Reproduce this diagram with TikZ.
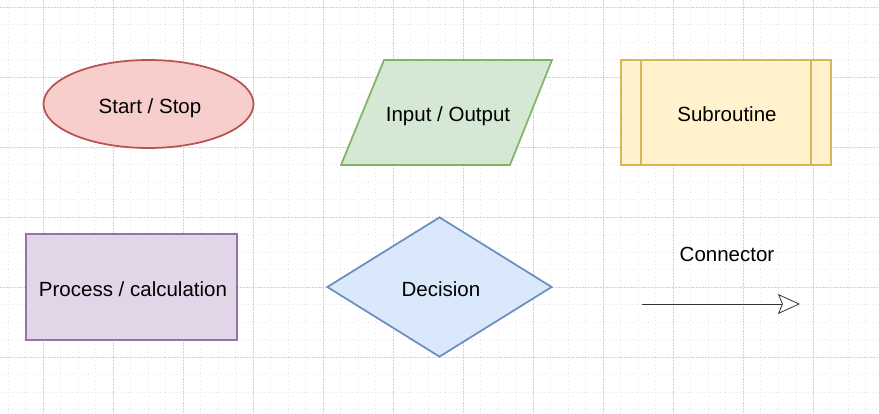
\documentclass[tikz,border=0pt]{standalone}
\usepackage{fontspec}
\setmainfont{Liberation Sans}
\usetikzlibrary{shapes.geometric,arrows.meta}
\definecolor{redfill}{HTML}{F8CECC}\definecolor{redline}{HTML}{B85450}
\definecolor{greenfill}{HTML}{D5E8D4}\definecolor{greenline}{HTML}{82B366}
\definecolor{yellowfill}{HTML}{FFF2CC}\definecolor{yellowline}{HTML}{D6B656}
\definecolor{purplefill}{HTML}{E1D5E7}\definecolor{purpleline}{HTML}{9673A6}
\definecolor{bluefill}{HTML}{DAE8FC}\definecolor{blueline}{HTML}{6C8EBF}
\definecolor{minorgrid}{HTML}{E6E6E6}\definecolor{majorgrid}{HTML}{D4D4D4}
\tikzset{
  shapebox/.style={line width=1.75pt, inner sep=0pt, text=black},
  lbl/.style={font=\fontsize{20.5}{24}\selectfont, text=black, inner sep=0pt, anchor=base},
  minorline/.style={draw=minorgrid, line width=0.8pt, dash pattern=on 1pt off 3pt},
  majorline/.style={draw=majorgrid, line width=0.8pt, dash pattern=on 1.5pt off 1.5pt},
  conn/.style={draw=black!80, line width=0.8pt, -{Stealth[open, fill=white, length=22pt, width=20pt, inset=4pt]}}
}
\begin{document}
\begin{tikzpicture}[x=1pt,y=-1pt]
\useasboundingbox[fill=white] (0,0) rectangle (879,413);
% grid
\foreach \i in {0,...,49} {\draw[minorline] (8+17.5*\i,0) -- (8+17.5*\i,413);}
\foreach \j in {0,...,23} {\draw[minorline] (0,7+17.5*\j) -- (879,7+17.5*\j);}
\foreach \i in {0,...,11} {\draw[majorline] (43+70*\i,0) -- (43+70*\i,413);}
\foreach \j in {0,...,5} {\draw[majorline] (0,7+70*\j) -- (879,7+70*\j);}
% Start / Stop
\node[shapebox, ellipse, draw=redline, fill=redfill, minimum width=210pt, minimum height=88pt] (start) at (148.5,104) {};
\node[lbl] (starttxt) at (150,113) {Start / Stop};
% Input / Output parallelogram
\coordinate (p1) at (384,60); \coordinate (p2) at (552,60);
\coordinate (p3) at (510,165); \coordinate (p4) at (341,165);
\draw[line width=1.75pt, draw=greenline, fill=greenfill, line join=miter] (p1) -- (p2) -- (p3) -- (p4) -- cycle;
\node[lbl] (io) at (448,121) {Input / Output};
% Subroutine
\node[shapebox, rectangle, draw=yellowline, fill=yellowfill, minimum width=210pt, minimum height=105pt] (sub) at (726,112.5) {};
\draw[line width=1.75pt, draw=yellowline] ([xshift=21pt]sub.north west) -- ([xshift=21pt]sub.south west);
\draw[line width=1.75pt, draw=yellowline] ([xshift=-21pt]sub.north east) -- ([xshift=-21pt]sub.south east);
\node[lbl] (subtxt) at (727,121) {Subroutine};
% Process
\node[shapebox, rectangle, draw=purpleline, fill=purplefill, minimum width=211pt, minimum height=106pt] (proc) at (131.5,287) {};
\node[lbl] (proctxt) at (133,296) {Process / calculation};
% Decision
\node[shapebox, diamond, draw=blueline, fill=bluefill, minimum width=225pt, minimum height=140pt] (dec) at (439.5,287) {};
\node[lbl] (dectxt) at (441,296) {Decision};
% Connector
\node[lbl] (conntxt) at (727,261) {Connector};
\coordinate (cs) at (642,304);
\coordinate (ce) at (800,304);
\draw[conn] (cs) -- (ce);
\end{tikzpicture}
\end{document}
